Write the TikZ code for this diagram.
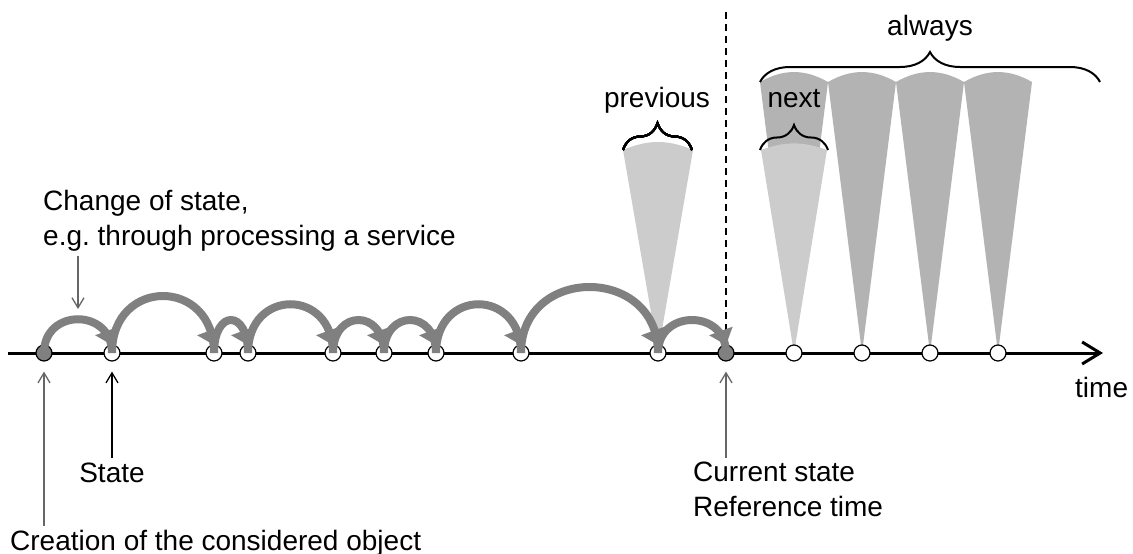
\documentclass[tikz,border=0pt]{standalone}
\usepackage{fontspec}
\setmainfont{Liberation Sans}
\usepackage{tikz}
\usetikzlibrary{arrows.meta}
\usetikzlibrary{decorations.pathreplacing}
\usetikzlibrary{backgrounds}
\definecolor{arcgray}{RGB}{128,128,128}
\definecolor{conelight}{RGB}{204,204,204}
\definecolor{conedark}{RGB}{179,179,179}
\tikzstyle{state}=[circle, draw, fill=white, line width=1.2pt, inner sep=0pt, minimum size=16pt]
\tikzstyle{nowstate}=[state, fill=arcgray]
\tikzstyle{txt}=[inner xsep=0pt, inner ysep=4pt, font=\fontsize{28pt}{35pt}\selectfont]
\tikzstyle{pointer}=[line width=1.3pt, -{Straight Barb[length=10pt,width=12pt]}, shorten >=10pt]
\tikzstyle{bracket}=[line width=2pt, decorate]
\tikzset{change/.style={draw=arcgray, line width=8pt}}
\newcommand{\headat}[1]{\fill[arcgray] ([yshift=8pt]#1.center) -- +(70:19.5pt) -- +(150:19.5pt) -- cycle;}

\begin{document}
\begin{tikzpicture}[x=1pt,y=-1pt]
		\useasboundingbox (0,0) rectangle (1133,554);
		\node[nowstate] (s0) at (44,353) {};
		\node[state] (s1) at (112,353) {};
		\node[state] (s2) at (214,353) {};
		\node[state] (s3) at (248,353) {};
		\node[state] (s4) at (333,353) {};
		\node[state] (s5) at (384,353) {};
		\node[state] (s6) at (436,353) {};
		\node[state] (s7) at (521,353) {};
		\node[state] (s8) at (658,353) {};
		\node[nowstate] (s9) at (726,353) {};
		\node[state] (f1) at (794,353) {};
		\node[state] (f2) at (862,353) {};
		\node[state] (f3) at (930,353) {};
		\node[state] (f4) at (998,353) {};
		\coordinate (t0) at (8,353);
		\coordinate (t1) at (1103,353);
		\coordinate (dtop) at (726,12);
		\begin{scope}[on background layer]
		\foreach \f in {f1,f2,f3,f4}
			\fill[conedark] (\f.center) -- ++(-34,-271) to[bend left=30] ++(68,0) -- cycle;
		\fill[conelight] (f1.center) -- ++(-33,-203) to[bend left=20] ++(66,0) -- cycle;
		\fill[conelight] (s8.center) -- ++(-35,-203) to[bend left=23] ++(70,0) -- cycle;
		\draw[line width=2.5pt, dash pattern=on 7pt off 5pt] (dtop) -- (s9.center);
		\draw[line width=3pt, -{Straight Barb[length=18pt,width=22pt]}] (t0) -- (t1);
		\end{scope}
		\draw[change] (s0.center) .. controls +(0,-45) and +(0,-45) .. (s1.center);
		\draw[change] (s1.center) .. controls +(0,-76) and +(0,-76) .. (s2.center);
		\draw[change] (s2.center) .. controls +(0,-44) and +(0,-44) .. (s3.center);
		\draw[change] (s3.center) .. controls +(0,-65) and +(0,-65) .. (s4.center);
		\draw[change] (s4.center) .. controls +(0,-44) and +(0,-44) .. (s5.center);
		\draw[change] (s5.center) .. controls +(0,-44) and +(0,-44) .. (s6.center);
		\draw[change] (s6.center) .. controls +(0,-65) and +(0,-65) .. (s7.center);
		\draw[change] (s7.center) .. controls +(0,-88) and +(0,-88) .. (s8.center);
		\draw[change] (s8.center) .. controls +(0,-44) and +(0,-44) .. (s9.center);
		\foreach \n in {s1,s2,s3,s4,s5,s6,s7,s8,s9}
			\headat{\n}
		\draw[bracket, decoration={brace, amplitude=27pt}] (623,150) -- (692,150);
		\draw[bracket, decoration={brace, amplitude=25pt}] (760,150) -- (828,150);
		\draw[bracket, decoration={brace, amplitude=30pt}] (760,82) -- (1100,82);
		\node[txt, anchor=base] (previous) at (657,107) {previous};
		\node[txt, anchor=base] (next) at (794,107) {next};
		\node[txt, anchor=base] (always) at (930,35) {always};
		\node[txt, anchor=base west] (time) at (1075,397) {time};
		\node[txt, anchor=north west, align=left] (change) at (43,186) {Change of state,\\e.g.\ through processing a service};
		\node[txt, anchor=base west] (creation) at (10,550) {Creation of the considered object};
		\node[txt, anchor=base] (statelabel) at (112,482) {State};
		\node[txt, anchor=north west, align=left] (current) at (693,458) {Current state\\Reference time};
		\coordinate (hit) at (78,309);
		\draw[pointer, draw=black!60, shorten >=0pt] (hit |- change.south) -- (hit);
		\draw[pointer, draw=black!60] (s0 |- creation.north) -- (s0);
		\draw[pointer] (s1 |- statelabel.north) -- (s1);
		\draw[pointer, draw=black!60] (s9 |- current.north) -- (s9);
		\end{tikzpicture}
\end{document}
